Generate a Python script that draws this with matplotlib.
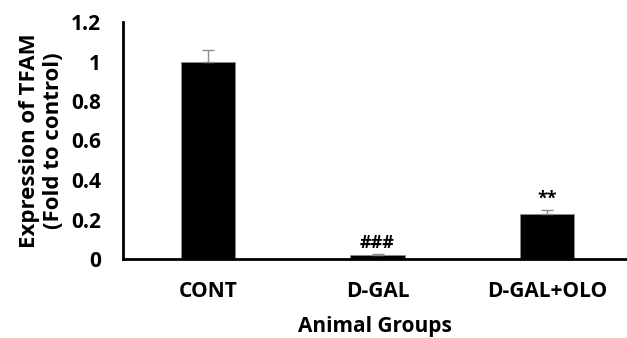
import numpy as np
import matplotlib.pyplot as plt

# TFAM expression, fold to control
groups = ['CONT', 'D-GAL', 'D-GAL+OLO']
means = [1.0, 0.02, 0.23]
errs = [0.06, 0.004, 0.02]
marks = ['', '###', '**']

plt.rcParams['font.family'] = ['Open Sans', 'DejaVu Sans']
plt.rcParams['font.weight'] = 'bold'

fig = plt.figure(figsize=(6.27, 3.38), dpi=100)
ax = fig.add_axes([123/627, 1 - 259/338, 1 - 123/627, (259 - 22)/338])

x = np.arange(len(groups))
# only the upper half of the error bar is visible over the black bars
ax.bar(x, means, width=0.32, color='black', edgecolor='#8c8c8c', linewidth=0.6,
       yerr=[np.zeros(len(errs)), errs],
       error_kw=dict(ecolor='#8c8c8c', elinewidth=1, capsize=4, capthick=1))

for xi, m, e, s in zip(x, means, errs, marks):
    if s:
        ax.text(xi, m + e + 0.01, s, ha='center', va='bottom', fontsize=13, fontweight='bold')

ax.set_xlim(-0.5, 2.47)
ax.set_ylim(0, 1.2)
ax.set_yticks(np.arange(0, 1.21, 0.2))
ax.set_yticklabels(['0', '0.2', '0.4', '0.6', '0.8', '1', '1.2'])
ax.set_xticks(x)
ax.set_xticklabels(groups)
ax.tick_params(axis='both', length=0, labelsize=15)
ax.tick_params(axis='x', pad=16)
ax.tick_params(axis='y', pad=16)

for sp in ['top', 'right']:
    ax.spines[sp].set_visible(False)
ax.spines['left'].set_linewidth(2)
ax.spines['bottom'].set_linewidth(2)

ax.set_xlabel('Animal Groups', fontsize=15, fontweight='bold', labelpad=10)
ax.set_ylabel('Expression of TFAM\n(Fold to control)', fontsize=16, fontweight='bold', labelpad=5)

fig.savefig('out.png', dpi=100)
